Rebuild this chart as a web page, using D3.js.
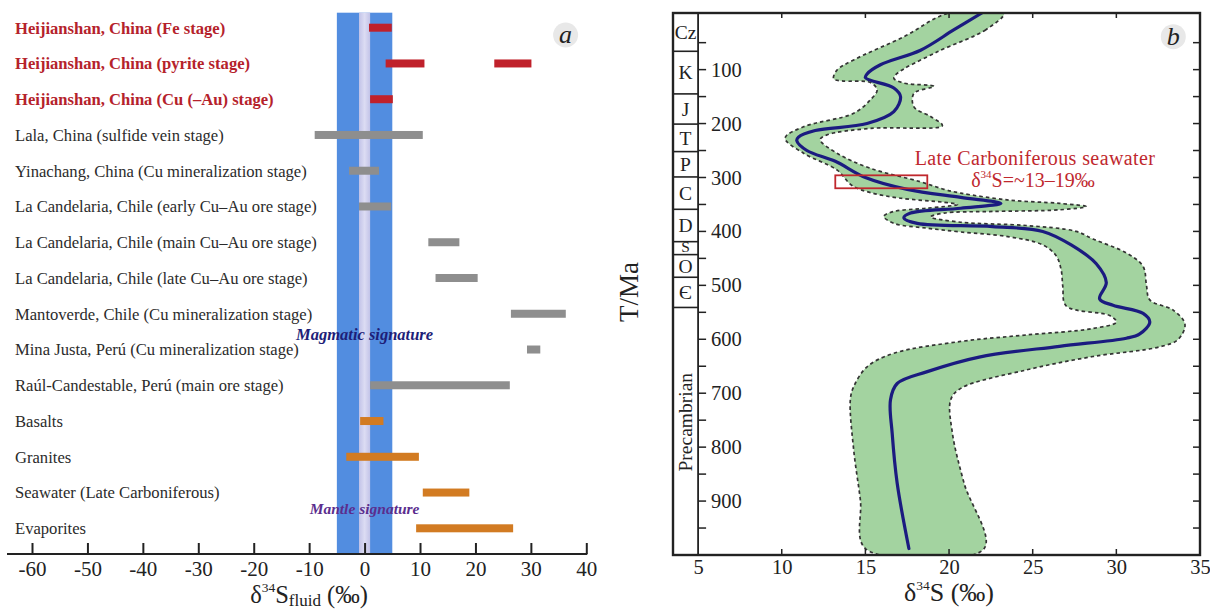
<!DOCTYPE html>
<html><head><meta charset="utf-8">
<script src="https://cdn.jsdelivr.net/npm/d3@7"></script>
<style>
html,body{margin:0;padding:0;background:#fff;}
svg, svg text{font-family:"Liberation Serif","Times New Roman",serif;}
svg{display:block;}
</style></head>
<body>
<svg id="chart" width="1210" height="609"></svg>
<script>
// ================= Panel a data =================
const categories = [
  "Heijianshan, China (Fe stage)",
  "Heijianshan, China (pyrite stage)",
  "Heijianshan, China (Cu (\u2013Au) stage)",
  "Lala, China (sulfide vein stage)",
  "Yinachang, China (Cu mineralization stage)",
  "La Candelaria, Chile (early Cu\u2013Au ore stage)",
  "La Candelaria, Chile (main Cu\u2013Au ore stage)",
  "La Candelaria, Chile (late Cu\u2013Au ore stage)",
  "Mantoverde, Chile (Cu mineralization stage)",
  "Mina Justa, Per\u00fa (Cu mineralization stage)",
  "Ra\u00fal-Candestable, Per\u00fa (main ore stage)",
  "Basalts",
  "Granites",
  "Seawater (Late Carboniferous)",
  "Evaporites"
];
const groups = ["heijianshan","heijianshan","heijianshan",
  "deposit","deposit","deposit","deposit","deposit","deposit","deposit","deposit",
  "reservoir","reservoir","reservoir","reservoir"];
const ranges = [
  [[0.8, 4.9]],
  [[3.8, 10.8], [23.4, 30.1]],
  [[1.0, 5.1]],
  [[-9.0, 10.5]],
  [[-2.8, 2.6]],
  [[-1.0, 4.8]],
  [[11.5, 17.1]],
  [[12.8, 20.4]],
  [[26.4, 36.3]],
  [[29.3, 31.7]],
  [[1.0, 26.2]],
  [[-0.8, 3.4]],
  [[-3.3, 9.8]],
  [[10.5, 18.9]],
  [[9.3, 26.8]]
];
const magmaticRange = [-5, 5];
const mantleRange = [-1, 1];
const xTicksA = [-60, -50, -40, -30, -20, -10, 0, 10, 20, 30, 40];

// ================= Panel b data =================
const periodNames  = ["Cz", "K", "J", "T", "P", "C", "D", "S", "O", "\u0404", "Precambrian"];
const periodBounds = [-5, 66, 145, 201, 252, 299, 359, 419, 443, 485, 541, 1000];
// mean seawater sulfate curve: [δ34S ‰, age Ma]
const meanCurve = [
  [21.96,-5],[20.3,26],[18.3,64],[15.9,91],[15.1,108],[15.0,115],[16.7,134],[17.1,150],[16.7,178],
  [15.1,200],[12.0,213],[11.0,225],[10.9,232],[11.5,250],[13.2,270],[15.0,300],[17.5,322],
  [20.7,337],[23.1,348],[20.7,357],[17.7,366],[17.3,375],[18.1,385],[22.6,391],[25.6,400],
  [27.3,425],[28.8,460],[29.4,495],[29.0,525],[29.8,537],[31.6,552],[32.0,568],[31.4,590],
  [30.6,598],[26.6,613],[21.8,633],[18.7,660],[16.9,682],[16.5,712],[16.6,774],[16.9,867],[17.6,988]
];
// uncertainty envelope, right edge (top→bottom) and left edge (top→bottom)
const envelopeRight = [
  [23.3,-5],[22.2,26],[19.3,67],[16.9,107],[16.7,116],[17.3,125],[19.1,131],[17.9,144],[17.9,169],
  [18.9,187],[19.6,204],[15.3,209],[12.7,221],[12.3,230],[13.3,255],[15.3,283],[18.3,308],
  [19.7,322],[20.7,329],[23.6,342],[26.6,348],[28.2,354],[26.6,360],[22.6,363],[19.7,366],
  [18.9,373],[20.7,383],[24.6,389],[27.6,400],[28.6,414],[30.6,440],[31.6,465],[31.8,500],
  [32.0,527],[33.4,546],[34.1,572],[33.7,600],[32.6,614],[28.6,632],[24.6,657],[20.7,691],
  [20.1,712],[20.2,774],[20.9,867],[22.1,988]
];
const envelopeLeft = [
  [20.0,-5],[17.3,39],[14.3,82],[13.3,101],[13.1,117],[13.6,121],[15.3,124],[15.7,138],[15.3,156],
  [14.3,181],[11.3,206],[10.2,227],[11.3,255],[13.3,286],[14.2,315],[15.3,328],[17.0,338],
  [19.7,346],[20.5,350],[18.7,357],[16.7,363],[16.1,372],[16.7,385],[18.7,394],[20.7,401],
  [23.6,410],[25.6,425],[26.4,445],[26.7,471],[26.8,502],[27.0,538],[29.6,556],[30.0,568],
  [28.6,580],[24.6,592],[20.7,604],[16.7,626],[15.1,651],[14.3,688],[14.1,712],[14.3,805],
  [14.7,898],[15.0,988]
];
const seawaterD34S = [13.2, 18.7];
const seawaterAge  = [296, 320];
const xTicksB = [5, 10, 15, 20, 25, 30, 35];
const xMinorB = [10, 15, 20, 25, 30];
const yTicksB = [100, 200, 300, 400, 500, 600, 700, 800, 900];
const yMinorB = d3.range(50, 1000, 50);

// ================= Drawing =================
const FONT = "'Liberation Serif','Times New Roman',serif";
const svg = d3.select("#chart");
const dark = "#222";

// ---------- Panel a ----------
const xA = d3.scaleLinear().domain([-60, 40]).range([32, 586.3]);
const yA = d3.scalePoint().domain(categories).range([27.7, 528.3]);
const axisYA = 554;
const gA = svg.append("g");

const defs = svg.append("defs");
const grad = defs.append("linearGradient").attr("id", "mantleGrad").attr("x1", "0").attr("x2", "1").attr("y1", "0").attr("y2", "0");
grad.append("stop").attr("offset", "0").attr("stop-color", "#c2c3e8");
grad.append("stop").attr("offset", "0.5").attr("stop-color", "#dcdcf3");
grad.append("stop").attr("offset", "1").attr("stop-color", "#c2c3e8");

gA.append("rect")
  .attr("x", xA(magmaticRange[0])).attr("y", 12.7)
  .attr("width", xA(magmaticRange[1]) - xA(magmaticRange[0]))
  .attr("height", axisYA - 12.7)
  .attr("fill", "#528de0");
gA.append("rect")
  .attr("x", xA(mantleRange[0])).attr("y", 12.7)
  .attr("width", xA(mantleRange[1]) - xA(mantleRange[0]))
  .attr("height", axisYA - 12.7)
  .attr("fill", "url(#mantleGrad)");

const barColor = {heijianshan: "#c0212b", deposit: "#8e8e8e", reservoir: "#d27b22"};
const labelColor = {heijianshan: "#b5222b", deposit: "#2b2b2b", reservoir: "#2b2b2b"};

categories.forEach((c, i) => {
  ranges[i].forEach(r => {
    gA.append("rect")
      .attr("x", xA(r[0])).attr("y", yA(c) - 4)
      .attr("width", xA(r[1]) - xA(r[0])).attr("height", 8)
      .attr("fill", barColor[groups[i]]);
  });
  gA.append("text")
    .attr("x", 15).attr("y", yA(c)).attr("dy", "0.35em")
    .style("font-family", FONT)
    .attr("font-size", 16.6)
    .attr("font-weight", groups[i] === "heijianshan" ? "bold" : "normal")
    .attr("fill", labelColor[groups[i]])
    .text(c);
});

gA.append("text").attr("x", xA(0)).attr("y", 340).attr("text-anchor", "middle").style("font-family", FONT)
  .attr("font-size", 16.5).attr("font-style", "italic").attr("font-weight", "bold")
  .attr("fill", "#1e1e78").text("Magmatic signature");
gA.append("text").attr("x", xA(0)).attr("y", 514).attr("text-anchor", "middle").style("font-family", FONT)
  .attr("font-size", 15.5).attr("font-style", "italic").attr("font-weight", "bold")
  .attr("fill", "#5b2e8e").text("Mantle signature");

// x axis
const axA = d3.axisBottom(xA).tickValues(xTicksA).tickSize(0).tickPadding(0).tickFormat(d => String(d));
const gAx = gA.append("g").attr("transform", `translate(0,${axisYA})`).call(axA);
gAx.attr("font-family", null).attr("font-size", null);
gAx.select(".domain").remove();
gAx.selectAll(".tick line").remove();
gAx.selectAll(".tick").append("line").attr("y1", 0).attr("y2", -11).attr("stroke", dark).attr("stroke-width", 2);
gAx.selectAll(".tick text").attr("y", 21.5).attr("dy", 0).attr("font-size", 21).attr("fill", dark)
  .style("font-family", FONT);
gA.append("line").attr("x1", 7).attr("x2", xA(40) + 1).attr("y1", axisYA).attr("y2", axisYA)
  .attr("stroke", dark).attr("stroke-width", 2.2);

const tA = gA.append("text").attr("x", 309).attr("y", 603).attr("text-anchor", "middle")
  .style("font-family", FONT).attr("font-size", 24.5).attr("fill", dark);
tA.append("tspan").text("\u03b4");
tA.append("tspan").attr("font-size", 13.5).attr("dy", -11).text("34");
tA.append("tspan").attr("dy", 11).text("S");
tA.append("tspan").attr("font-size", 17).attr("dy", 3).text("fluid");
tA.append("tspan").attr("dy", -3).text(" (\u2030)");

gA.append("circle").attr("cx", 565.6).attr("cy", 35).attr("r", 12.5).attr("fill", "#e8e8e8");
gA.append("text").attr("x", 565.6).attr("y", 43).attr("text-anchor", "middle").style("font-family", FONT)
  .attr("font-size", 26).attr("font-style", "italic").attr("fill", dark).text("a");

// ---------- Panel b ----------
const xB = d3.scaleLinear().domain([3.5, 35]).range([673, 1200]);
const yB = d3.scaleLinear().domain([-5, 1000]).range([13, 555]);
const gB = svg.append("g");

defs.append("clipPath").attr("id", "clipB").append("rect")
  .attr("x", xB(5)).attr("y", yB(-5)).attr("width", xB(35) - xB(5)).attr("height", yB(1000) - yB(-5));

const envelope = envelopeRight.concat(envelopeLeft.slice().reverse());
const plot = gB.append("g").attr("clip-path", "url(#clipB)");
plot.append("path")
  .datum(envelope)
  .attr("d", d3.line().x(d => xB(d[0])).y(d => yB(d[1])).curve(d3.curveCatmullRomClosed.alpha(0.5)))
  .attr("fill", "#a3d3a0").attr("stroke", "#333").attr("stroke-width", 1.7)
  .attr("stroke-dasharray", "3.5,3");
plot.append("path")
  .datum(meanCurve)
  .attr("d", d3.line().x(d => xB(d[0])).y(d => yB(d[1])).curve(d3.curveCatmullRom.alpha(0.5)))
  .attr("fill", "none").attr("stroke", "#1b1b80").attr("stroke-width", 3.2)
  .attr("stroke-linejoin", "round").attr("stroke-linecap", "round");

plot.append("rect")
  .attr("x", xB(seawaterD34S[0])).attr("y", yB(seawaterAge[0]))
  .attr("width", xB(seawaterD34S[1]) - xB(seawaterD34S[0]))
  .attr("height", yB(seawaterAge[1]) - yB(seawaterAge[0]))
  .attr("fill", "none").attr("stroke", "#c0282e").attr("stroke-width", 1.8);

gB.append("text").attr("x", 1035).attr("y", 165).attr("text-anchor", "middle").style("font-family", FONT)
  .attr("font-size", 20).attr("letter-spacing", 0.4).attr("fill", "#c0282e").text("Late Carboniferous seawater");
const t2 = gB.append("text").attr("x", 1033).attr("y", 187).attr("text-anchor", "middle").style("font-family", FONT)
  .attr("font-size", 20).attr("fill", "#c0282e");
t2.append("tspan").text("\u03b4");
t2.append("tspan").attr("font-size", 11).attr("dy", -9).text("34");
t2.append("tspan").attr("dy", 9).text("S=~13\u201319\u2030");

// stratigraphic column
const colX0 = xB(3.5), colX1 = xB(5);
periodBounds.slice(1, -1).forEach(b => {
  gB.append("line").attr("x1", colX0).attr("x2", colX1).attr("y1", yB(b)).attr("y2", yB(b))
    .attr("stroke", dark).attr("stroke-width", 1.6);
});
periodNames.forEach((p, i) => {
  const mid = (periodBounds[i] + periodBounds[i + 1]) / 2;
  if (p === "Precambrian") {
    gB.append("text").attr("transform", `translate(${(colX0 + colX1) / 2},${yB(mid) - 9}) rotate(-90)`)
      .style("font-family", FONT)
      .attr("text-anchor", "middle").attr("dy", "0.35em").attr("font-size", 19.5).attr("fill", dark).text(p);
  } else {
    const small = p === "S";
    gB.append("text").attr("x", (colX0 + colX1) / 2).attr("y", yB(mid) - (small ? 1.5 : 0)).attr("dy", "0.35em").style("font-family", FONT)
      .attr("text-anchor", "middle").attr("font-size", small ? 15.5 : 19.5).attr("fill", dark).text(p);
  }
});
gB.append("line").attr("x1", colX1).attr("x2", colX1).attr("y1", yB(-5)).attr("y2", yB(1000))
  .attr("stroke", dark).attr("stroke-width", 1.8);

// ticks
yMinorB.forEach(t => {
  gB.append("line").attr("x1", colX1).attr("x2", colX1 + 8).attr("y1", yB(t)).attr("y2", yB(t)).attr("stroke", dark).attr("stroke-width", 1.5);
  gB.append("line").attr("x1", xB(35)).attr("x2", xB(35) - 7).attr("y1", yB(t)).attr("y2", yB(t)).attr("stroke", dark).attr("stroke-width", 1.5);
});
xMinorB.forEach(v => {
  gB.append("line").attr("x1", xB(v)).attr("x2", xB(v)).attr("y1", yB(-5)).attr("y2", yB(-5) + 5).attr("stroke", dark).attr("stroke-width", 1.5);
  gB.append("line").attr("x1", xB(v)).attr("x2", xB(v)).attr("y1", yB(1000)).attr("y2", yB(1000) - 6).attr("stroke", dark).attr("stroke-width", 1.5);
});
const axBy = d3.axisRight(yB).tickValues(yTicksB).tickSize(0).tickPadding(0);
const gBy = gB.append("g").attr("transform", `translate(${colX1 + 13},0)`).call(axBy);
gBy.attr("font-family", null).attr("font-size", null);
gBy.select(".domain").remove();
gBy.selectAll(".tick text").attr("x", 0).attr("font-size", 20.5).attr("fill", dark).style("font-family", FONT);
const axBx = d3.axisBottom(xB).tickValues(xTicksB).tickSize(0).tickPadding(0);
const gBx = gB.append("g").attr("transform", `translate(0,${yB(1000)})`).call(axBx);
gBx.attr("font-family", null).attr("font-size", null);
gBx.select(".domain").remove();
gBx.selectAll(".tick text").attr("y", 19).attr("dy", 0).attr("font-size", 20.5).attr("fill", dark).style("font-family", FONT);

// frame
gB.append("rect").attr("x", xB(3.5)).attr("y", yB(-5)).attr("width", xB(35) - xB(3.5)).attr("height", yB(1000) - yB(-5))
  .attr("fill", "none").attr("stroke", dark).attr("stroke-width", 2.4);

// axis titles
gB.append("text").attr("transform", "translate(638,292) rotate(-90)").attr("text-anchor", "middle").style("font-family", FONT)
  .attr("font-size", 27).attr("fill", dark).text("T/Ma");
const tB = gB.append("text").attr("x", 949).attr("y", 601).attr("text-anchor", "middle").style("font-family", FONT)
  .attr("font-size", 26).attr("fill", dark);
tB.append("tspan").text("\u03b4");
tB.append("tspan").attr("font-size", 13.5).attr("dy", -11).text("34");
tB.append("tspan").attr("dy", 11).text("S (\u2030)");

gB.append("circle").attr("cx", 1173.3).attr("cy", 36.7).attr("r", 12.5).attr("fill", "#e8e8e8");
gB.append("text").attr("x", 1173.3).attr("y", 45).attr("text-anchor", "middle").style("font-family", FONT)
  .attr("font-size", 26).attr("font-style", "italic").attr("fill", dark).text("b");
</script>
</body></html>
